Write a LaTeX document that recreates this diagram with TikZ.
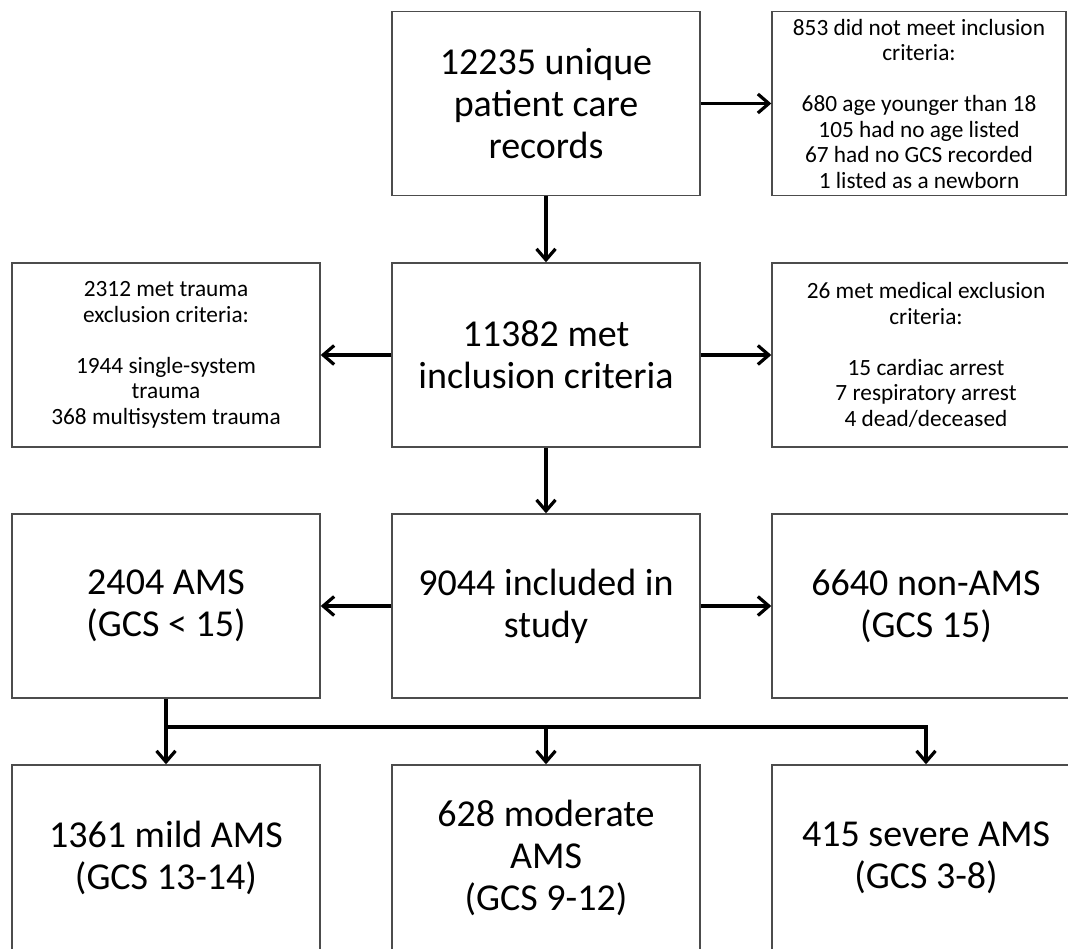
\documentclass[tikz,border=0pt]{standalone}
\usepackage{fontspec}
\setmainfont{Carlito}
\usetikzlibrary{arrows.meta}
\begin{document}
\begin{tikzpicture}[x=1pt,y=-1pt,
  box/.style={draw=black!70,line width=1.4pt,fill=white,inner sep=0pt,
    minimum width=308pt,minimum height=184pt,align=center},
  big/.style={font=\fontsize{38}{42}\selectfont},
  small/.style={font=\fontsize{23.3}{25.5}\selectfont},
  arr/.style={line width=3.2pt,-{Straight Barb[length=11pt,width=19pt]}},
  bus/.style={line width=3.2pt}]
\useasboundingbox (0,0) rectangle (1068,948);
\clip (0,0) rectangle (1068,948);
% row 1
\node[box,big] (rec) at (546,103.5) {12235 unique\\patient care\\records};
\node[box,small,minimum width=294pt] (notmeet) at (919,103.5) {853 did not meet inclusion\\criteria:\\[25.5pt]680 age younger than 18\\105 had no age listed\\67 had no GCS recorded\\1 listed as a newborn};
% row 2
\node[box,big] (incl) at (546,355) {11382 met\\inclusion criteria};
\node[box,small] (trauma) at (166,355) {2312 met trauma\\exclusion criteria:\\[25.5pt]1944 single-system\\trauma\\368 multisystem trauma};
\node[box,small] (medical) at (926,355) {26 met medical exclusion\\criteria:\\[25.5pt]15 cardiac arrest\\7 respiratory arrest\\4 dead/deceased};
% row 3
\node[box,big] (study) at (546,606) {9044 included in\\study};
\node[box,big] (ams) at (166,606) {2404 AMS\\(GCS < 15)};
\node[box,big] (nonams) at (926,606) {6640 non-AMS\\(GCS 15)};
% row 4
\node[box,big,minimum height=186pt] (mild) at (166,858) {1361 mild AMS\\(GCS 13-14)};
\node[box,big,minimum height=186pt] (moderate) at (546,858) {628 moderate\\AMS\\(GCS 9-12)};
\node[box,big,minimum height=186pt] (severe) at (926,858) {415 severe AMS\\(GCS 3-8)};
% connectors
\draw[arr] (rec.east) -- (notmeet.west);
\draw[arr] (rec.south) -- (incl.north);
\draw[arr] (incl.west) -- (trauma.east);
\draw[arr] (incl.east) -- (medical.west);
\draw[arr] (incl.south) -- (study.north);
\draw[arr] (study.west) -- (ams.east);
\draw[arr] (study.east) -- (nonams.west);
\coordinate (busL) at (ams.south |- 0,727);
\coordinate (busM) at (moderate.north |- 0,727);
\coordinate (busR) at (severe.north |- 0,727);
\draw[arr] (ams.south) -- (mild.north);
\draw[bus] (busL) -- (busR);
\draw[arr] (busM) -- (moderate.north);
\draw[arr] ([yshift=1.6pt]busR) -- (severe.north);
\end{tikzpicture}
\end{document}
